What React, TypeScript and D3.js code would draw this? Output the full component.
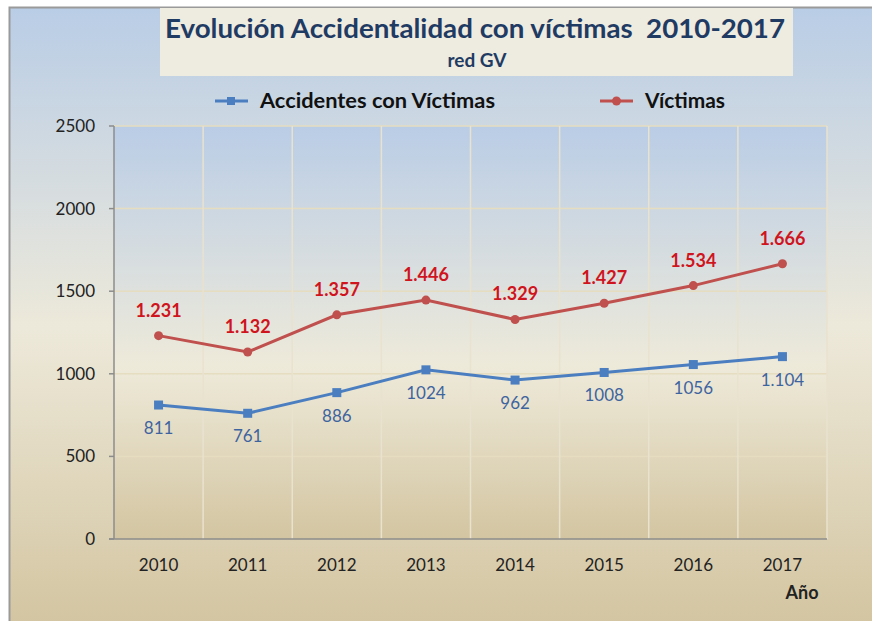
import React from "react";
import * as d3 from "d3";

const years = ["2010", "2011", "2012", "2013", "2014", "2015", "2016", "2017"];
const accidentes = [811, 761, 886, 1024, 962, 1008, 1056, 1104];
const accidentesLabels = ["811", "761", "886", "1024", "962", "1008", "1056", "1.104"];
const victimas = [1231, 1132, 1357, 1446, 1329, 1427, 1534, 1666];
const victimasLabels = ["1.231", "1.132", "1.357", "1.446", "1.329", "1.427", "1.534", "1.666"];
const yTicks = [0, 500, 1000, 1500, 2000, 2500];

const W = 872;
const H = 621;
const FONT = "Lato, 'Open Sans', sans-serif";
const BLUE = "#4A7EC1";
const RED = "#C0504D";

export default function App() {
  const plot = { left: 114, right: 827, top: 126, bottom: 539 };
  const x = d3.scaleBand<string>().domain(years).range([plot.left, plot.right]);
  const y = d3.scaleLinear().domain([0, 2500]).range([plot.bottom, plot.top]);
  const cx = (d: string) => (x(d) as number) + x.bandwidth() / 2;

  const line = d3
    .line<number>()
    .x((_, i) => cx(years[i]))
    .y((v) => y(v));

  return (
    <div style={{ position: "absolute", left: 0, top: 0 }}>
      <svg width={W} height={H} style={{ display: "block" }}>
        <defs>
          <linearGradient id="outerG" x1="0" y1="0" x2="0" y2="1">
            <stop offset="0" stopColor="#B9CDE6" />
            <stop offset="0.5" stopColor="#EDE9DA" />
            <stop offset="1" stopColor="#D1C29C" />
          </linearGradient>
          <linearGradient id="plotG" x1="0" y1="0" x2="0" y2="1">
            <stop offset="0" stopColor="#BACDE6" />
            <stop offset="0.58" stopColor="#EEEADA" />
            <stop offset="1" stopColor="#D3C5A1" />
          </linearGradient>
        </defs>
        <rect x={0} y={0} width={W} height={H} fill="#fff" />
        <rect x={9.5} y={7.5} width={W + 20} height={H + 20} fill="url(#outerG)" stroke="#9A9A9A" strokeWidth={2} />

        {/* title box */}
        <rect x={160} y={8} width={633} height={68} fill="#EEEBE0" />
        <text x={475} y={38} textAnchor="middle" fontFamily={FONT} fontWeight={700} fontSize={27} fill="#1F3B63"
          textLength={620} lengthAdjust="spacingAndGlyphs" xmlSpace="preserve">
          {"Evolución Accidentalidad con víctimas  2010-2017"}
        </text>
        <text x={477} y={67} textAnchor="middle" fontFamily={FONT} fontWeight={700} fontSize={19} fill="#1F3B63">
          red GV
        </text>

        {/* legend */}
        <line x1={215} x2={248} y1={101} y2={101} stroke={BLUE} strokeWidth={3} />
        <rect x={227} y={97} width={8} height={8} fill={BLUE} />
        <text x={260} y={108} fontFamily={FONT} fontWeight={700} fontSize={21} fill="#111"
          textLength={235} lengthAdjust="spacingAndGlyphs">
          Accidentes con Víctimas
        </text>
        <line x1={600} x2={633} y1={101} y2={101} stroke={RED} strokeWidth={3} />
        <circle cx={616.5} cy={101} r={4.5} fill={RED} />
        <text x={645} y={108} fontFamily={FONT} fontWeight={700} fontSize={21} fill="#111"
          textLength={80} lengthAdjust="spacingAndGlyphs">
          Víctimas
        </text>

        {/* plot area */}
        <rect x={plot.left} y={plot.top} width={plot.right - plot.left} height={plot.bottom - plot.top} fill="url(#plotG)" />
        {yTicks.slice(1).map((t) => (
          <line key={t} x1={plot.left} x2={plot.right} y1={y(t)} y2={y(t)} stroke="#E6DCC0" strokeWidth={1.5} />
        ))}
        {years.slice(1).map((d) => (
          <line key={d} x1={x(d) as number} x2={x(d) as number} y1={plot.top} y2={plot.bottom} stroke="#E8E2CE" strokeWidth={1.5} />
        ))}
        <line x1={plot.right} x2={plot.right} y1={plot.top} y2={plot.bottom} stroke="#E8E2CE" strokeWidth={1.5} />

        {/* axes */}
        <line x1={plot.left} x2={plot.left} y1={plot.top} y2={plot.bottom} stroke="#8C8C8C" strokeWidth={1.5} />
        <line x1={plot.left - 5} x2={plot.right} y1={plot.bottom} y2={plot.bottom} stroke="#8C8C8C" strokeWidth={1.5} />
        {yTicks.map((t) => (
          <g key={t}>
            <line x1={plot.left - 5} x2={plot.left} y1={y(t)} y2={y(t)} stroke="#8C8C8C" strokeWidth={1.5} />
            <text x={95} y={y(t) + 6} textAnchor="end" fontFamily={FONT} fontSize={17} fill="#222">
              {t}
            </text>
          </g>
        ))}
        {years.map((d) => (
          <text key={d} x={cx(d)} y={571} textAnchor="middle" fontFamily={FONT} fontSize={17} fill="#222">
            {d}
          </text>
        ))}
        <text x={802} y={599} textAnchor="middle" fontFamily={FONT} fontWeight={700} fontSize={18} fill="#222">
          Año
        </text>

        {/* series */}
        <path d={line(victimas) || ""} fill="none" stroke={RED} strokeWidth={3} />
        <path d={line(accidentes) || ""} fill="none" stroke={BLUE} strokeWidth={3} />
        {victimas.map((v, i) => (
          <circle key={i} cx={cx(years[i])} cy={y(v)} r={4.5} fill={RED} />
        ))}
        {accidentes.map((v, i) => (
          <rect key={i} x={cx(years[i]) - 4.5} y={y(v) - 4.5} width={9} height={9} fill={BLUE} />
        ))}
        {victimas.map((v, i) => (
          <text key={i} x={cx(years[i])} y={y(v) - 19} textAnchor="middle" fontFamily={FONT} fontWeight={700} fontSize={18} fill="#D0141E">
            {victimasLabels[i]}
          </text>
        ))}
        {accidentes.map((v, i) => (
          <text key={i} x={cx(years[i])} y={y(v) + 29} textAnchor="middle" fontFamily={FONT} fontSize={17} fill="#3E64A0">
            {accidentesLabels[i]}
          </text>
        ))}
      </svg>
    </div>
  );
}
